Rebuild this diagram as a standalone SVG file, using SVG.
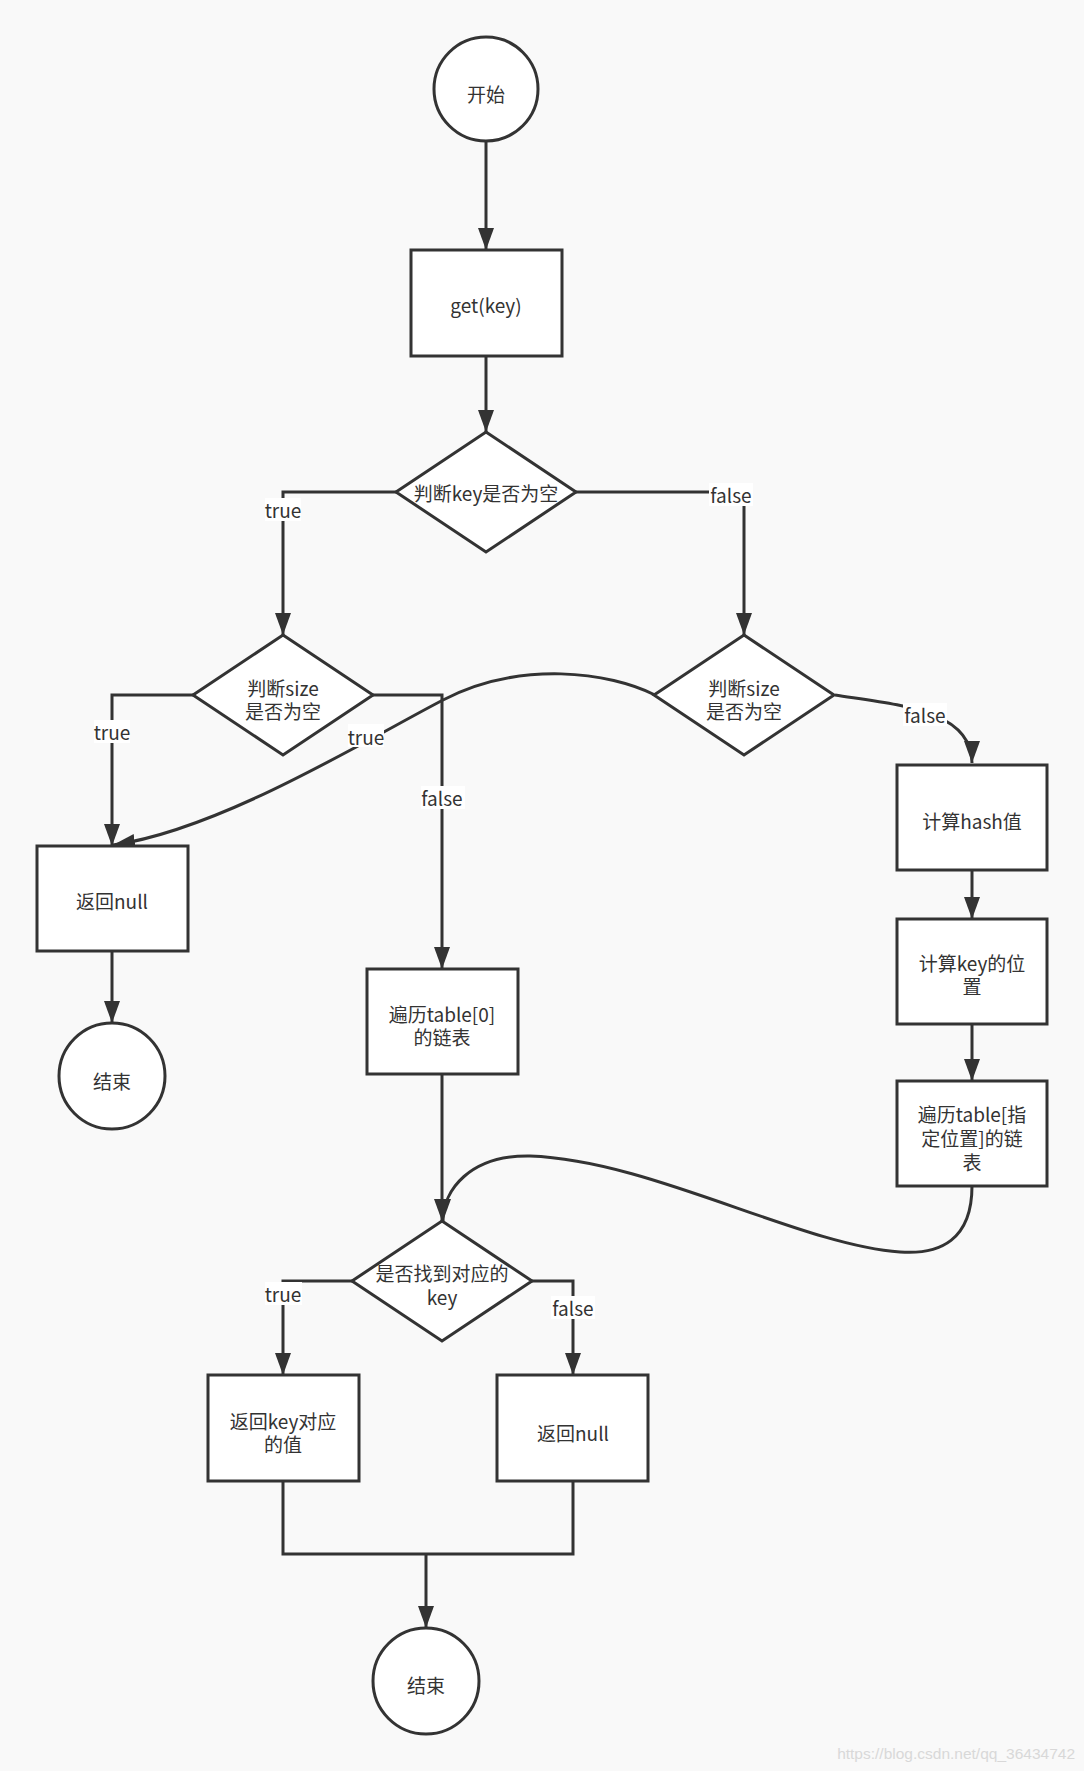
<svg xmlns="http://www.w3.org/2000/svg" width="1084" height="1771" viewBox="0 0 1084 1771">
<defs>
<marker id="arr" markerUnits="userSpaceOnUse" markerWidth="24" markerHeight="18" refX="22" refY="8" orient="auto">
<path d="M0,0 L22,8 L0,16 z" fill="#333"/>
</marker>
<style>
.n{fill:#fff;stroke:#333;stroke-width:3}
.t{font-family:"Noto Sans CJK SC","Noto Sans",sans-serif;font-size:19px;fill:#333;text-anchor:middle;dominant-baseline:central}
.e{fill:none;stroke:#333;stroke-width:3;marker-end:url(#arr)}
.l{fill:none;stroke:#333;stroke-width:3}
.lb{fill:#fff}
</style>
</defs>
<rect width="1084" height="1771" fill="#f9f9f9"/>
<g id="connectors">
<path class="e" d="M486,141 V250"/>
<path class="e" d="M486,356 V432"/>
<path class="e" d="M396,492 H283 V635"/>
<path class="e" d="M576,492 H744 V635"/>
<path class="e" d="M193,695 H112 V846"/>
<path class="e" d="M373,695 H442 V969"/>
<path class="e" d="M655,695 C610,672 520,660 443,700 S220,830 113,845"/>
<path class="e" d="M835,695 C900,705 972,710 972,763"/>
<path class="e" d="M972,870 V919"/>
<path class="e" d="M972,1024 V1081"/>
<path class="e" d="M972,1186 C972,1240 940,1255 900,1252 C800,1245 650,1160 530,1156 C470,1155 443,1190 443,1221"/>
<path class="e" d="M442,1074 V1221"/>
<path class="e" d="M353,1281 H283 V1375"/>
<path class="e" d="M532,1281 H573 V1375"/>
<path class="e" d="M112,951 V1023"/>
<path class="l" d="M283,1481 V1554 H573 V1481"/>
<path class="e" d="M426,1554 V1628"/>
<rect class="lb" x="265" y="498" width="36" height="23"/>
<text class="t" x="283" y="509">true</text>
<rect class="lb" x="709" y="483" width="44" height="23"/>
<text class="t" x="731" y="494">false</text>
<rect class="lb" x="94" y="720" width="36" height="23"/>
<text class="t" x="112" y="731">true</text>
<rect class="lb" x="348" y="724" width="36" height="23"/>
<text class="t" x="366" y="736">true</text>
<rect class="lb" x="421" y="786" width="44" height="23"/>
<text class="t" x="442" y="797">false</text>
<rect class="lb" x="903" y="703" width="44" height="23"/>
<text class="t" x="925" y="714">false</text>
<rect class="lb" x="265" y="1282" width="37" height="23"/>
<text class="t" x="283" y="1293">true</text>
<rect class="lb" x="551" y="1296" width="44" height="23"/>
<text class="t" x="573" y="1307">false</text>
</g>
<g id="start"><circle class="n" cx="486" cy="89" r="52"/><text class="t" x="486" y="93">开始</text></g>
<g id="get"><rect class="n" x="411" y="250" width="151" height="106"/><text class="t" x="486" y="304">get(key)</text></g>
<g id="d1"><polygon class="n" points="486,432 576,492 486,552 396,492"/><text class="t" x="486" y="492">判断key是否为空</text></g>
<g id="d2"><polygon class="n" points="283,635 373,695 283,755 193,695"/><text class="t" x="283" y="687">判断size<tspan x="283" dy="23">是否为空</tspan></text></g>
<g id="d3"><polygon class="n" points="744,635 834,695 744,755 654,695"/><text class="t" x="744" y="687">判断size<tspan x="744" dy="23">是否为空</tspan></text></g>
<g id="null1"><rect class="n" x="37" y="846" width="151" height="105"/><text class="t" x="112" y="900">返回null</text></g>
<g id="end1"><circle class="n" cx="112" cy="1076" r="53"/><text class="t" x="112" y="1080">结束</text></g>
<g id="trav0"><rect class="n" x="367" y="969" width="151" height="105"/><text class="t" x="442" y="1013">遍历table[0]<tspan x="442" dy="23">的链表</tspan></text></g>
<g id="hash"><rect class="n" x="897" y="765" width="150" height="105"/><text class="t" x="972" y="820">计算hash值</text></g>
<g id="pos"><rect class="n" x="897" y="919" width="150" height="105"/><text class="t" x="972" y="962">计算key的位<tspan x="972" dy="23">置</tspan></text></g>
<g id="trav"><rect class="n" x="897" y="1081" width="150" height="105"/><text class="t" x="972" y="1113">遍历table[指<tspan x="972" dy="24">定位置]的链</tspan><tspan x="972" dy="24">表</tspan></text></g>
<g id="d4"><polygon class="n" points="442,1221 532,1281 442,1341 352,1281"/><text class="t" x="442" y="1272">是否找到对应的<tspan x="442" dy="24">key</tspan></text></g>
<g id="val"><rect class="n" x="208" y="1375" width="151" height="106"/><text class="t" x="283" y="1420">返回key对应<tspan x="283" dy="23">的值</tspan></text></g>
<g id="null2"><rect class="n" x="497" y="1375" width="151" height="106"/><text class="t" x="573" y="1432">返回null</text></g>
<g id="end2"><circle class="n" cx="426" cy="1681" r="53"/><text class="t" x="426" y="1684">结束</text></g>
<text x="1075" y="1759" text-anchor="end" font-family="Liberation Sans, sans-serif" font-size="15.5" fill="#d8d8d8">https://blog.csdn.net/qq_36434742</text>
</svg>
